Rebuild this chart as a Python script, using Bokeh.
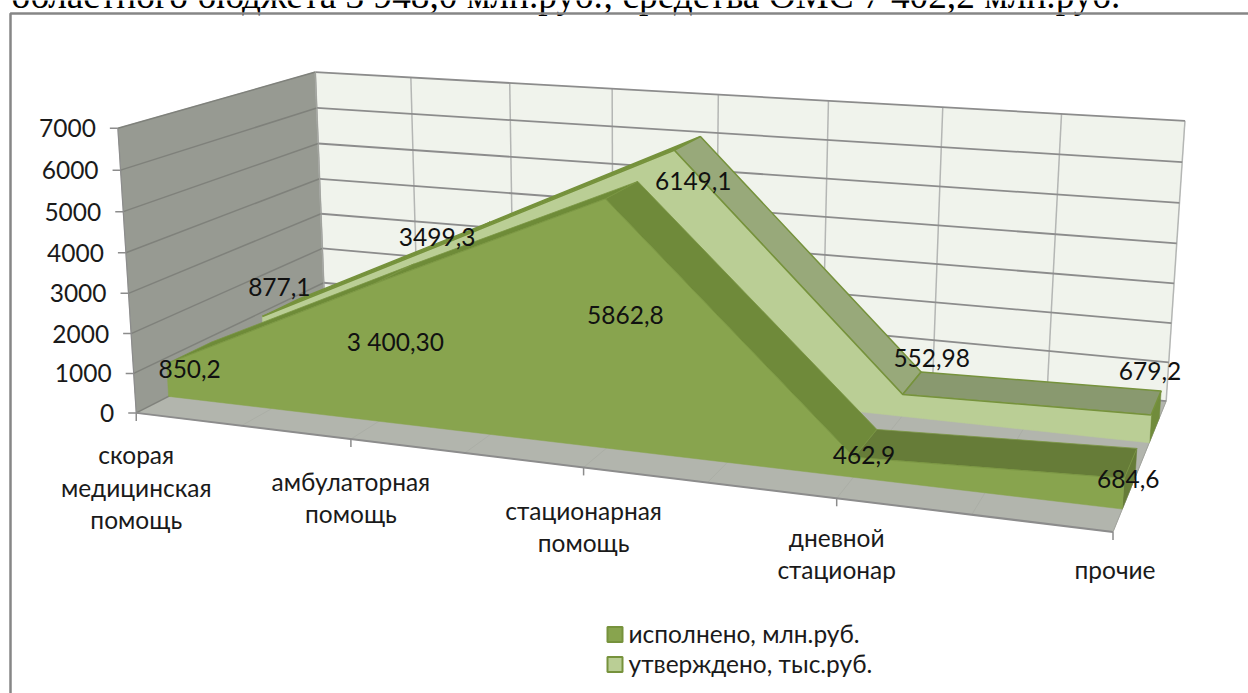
import numpy as np
from bokeh.plotting import figure
from bokeh.core.properties import value
from bokeh.embed import file_html
from bokeh.resources import INLINE

# ---- data ----
categories = [["скорая", "медицинская", "помощь"], ["амбулаторная", "помощь"],
              ["стационарная", "помощь"], ["дневной", "стационар"], ["прочие"]]
executed = [850.2, 3400.3, 5862.8, 462.9, 684.6]
executed_labels = ["850,2", "3 400,30", "5862,8", "462,9", "684,6"]
approved = [877.1, 3499.3, 6149.1, 552.98, 679.2]
approved_labels = ["877,1", "3499,3", "6149,1", "552,98", "679,2"]
value_ticks = [0, 1000, 2000, 3000, 4000, 5000, 6000, 7000]
series_names = ["исполнено, млн.руб.", "утверждено, тыс.руб."]
heading = "областного бюджета 3 948,0 млн.руб.; средства ОМС 7 402,2 млн.руб."

# ---- perspective camera: fitted from where the box's landmarks sit on the page ----
world = [(0,0,0),(4,0,0),(0,1,0),(4,1,0),(0,0,7000),(0,1,7000),(4,1,7000),
         (1,0,0),(2,0,0),(3,0,0),(1,1,7000),(2,1,7000),(3,1,7000),(0,0,3000),(0,0,5000)]
page = [(136,412),(1112,532),(325,317),(1166,398),(118,127),(314,72),(1185,121),
        (350,440),(583,468),(836,498),(509,82),(718,95),(942,107),(128,292),(123,210)]
A, b = [], []
for (u,d,v),(x,y) in zip(world,page):
    U,D,V = u/4,d,v/7000
    A.append([U,D,V,1,0,0,0,0,-x*U,-x*D,-x*V]); b.append(x)
    A.append([0,0,0,0,U,D,V,1,-y*U,-y*D,-y*V]); b.append(y)
M = np.linalg.lstsq(np.array(A,float),np.array(b,float),rcond=None)[0]
M = np.append(M,1).reshape(3,4)

def P(u,d,v):
    h = M @ np.array([u/4,d,v/7000,1.0])
    return h[0]/h[2], h[1]/h[2]

W,H = 1248,693
FONT = value("Lato")
FS = "24.5px"
p = figure(width=W,height=H,x_range=(0,W),y_range=(H,0),output_backend="svg",
           toolbar_location=None,min_border=0,
           background_fill_color="white",border_fill_color="white",outline_line_color=None)
p.axis.visible=False
p.grid.visible=False

def poly(pts,fill,line=None,lw=1.0):
    xy=[P(*q) for q in pts]
    p.patch([a for a,_ in xy],[c for _,c in xy],fill_color=fill,
            line_color=line if line else fill,line_width=lw if line else 0.5)
def seg(a,b_,color,lw):
    x0,y0=P(*a);x1,y1=P(*b_)
    p.line([x0,x1],[y0,y1],line_color=color,line_width=lw)

# heading and frame of the embedded chart
p.text([11],[-5],text=[heading],text_font=value("Liberation Serif"),text_font_size="37.3px",
       text_baseline="alphabetic",text_color="#000000")
p.line([W,10,10],[13,13,H],line_color="#868686",line_width=2.5)

# walls and floor
poly([(0,1,0),(4,1,0),(4,1,7000),(0,1,7000)],"#F0F3EC")
poly([(0,0,0),(0,1,0),(0,1,7000),(0,0,7000)],"#979A92")
poly([(0,0,0),(4,0,0),(4,1,0),(0,1,0)],"#B2B5AD")
for k in range(0,9):
    seg((k/2,1,0),(k/2,1,7000),"#B4B6B4",1.5)
    if 0<k<8:
        seg((k/2,0,0),(k/2,1,0),"#ABAEA6",1)
for t in value_ticks:
    seg((0,1,t),(4,1,t),"#8C8C8C",1.8)
    seg((0,0,t),(0,1,t),"#7F817B",1.5)
seg((0,0,0),(0,0,7000),"#8C8C8C",1.2)
seg((0,1,0),(0,1,7000),"#A0A29C",1)
seg((0,0,0),(4,0,0),"#8C8C8C",2)
seg((4,0,0),(4,1,0),"#A0A29C",1)

def series(vals,d0,d1,face,up,down,flat,cap,edge,elw):
    poly([(4,d0,vals[4]),(4,d1,vals[4]),(4,d1,0),(4,d0,0)],cap)
    for i in range(4):
        a,c=vals[i],vals[i+1]
        col = up if c-a>1000 else (down if a-c>1000 else flat)
        poly([(i,d0,a),(i+1,d0,c),(i+1,d1,c),(i,d1,a)],col,edge,elw)
    pts=[(0,d0,0)]+[(i,d0,vals[i]) for i in range(5)]+[(4,d0,0)]
    poly(pts,face)
    if edge:
        xy=[P(i,d0,vals[i]) for i in range(5)]
        p.line([a for a,_ in xy],[c for _,c in xy],line_color=edge,line_width=elw)

D = [(0.15,0.37),(0.64,0.85)]
series(approved,D[1][0],D[1][1],"#BACE95","#76923C","#98A97A","#89996F","#718C3C","#76923C",1.5)
series(executed,D[0][0],D[0][1],"#88A44E","#6E8B38","#6F8A3A","#667C38","#667C38","#7A9642",0.8)

# axis ticks and labels
tx,ty=[],[]
for t in value_ticks:
    x,y=P(0,0,t)
    p.line([x-8,x],[y,y],line_color="#8C8C8C",line_width=1.5)
    tx.append(x-22);ty.append(y)
p.text(tx,ty,text=[str(t) for t in value_ticks],text_font=FONT,text_font_size=FS,
       text_align="right",text_baseline="middle",text_color="#1A1A1A")
cat_gap=[42,42,43,39,38]
for i,lines in enumerate(categories):
    x,y=P(i,0,0)
    p.line([x,x],[y,y+8],line_color="#8C8C8C",line_width=1.5)
    p.text([x+(2 if i==4 else 0)]*len(lines),[y+cat_gap[i]+32.5*k for k in range(len(lines))],text=lines,text_font=FONT,
           text_font_size=FS,text_align="center",text_baseline="middle",text_color="#1A1A1A")

# data labels
off1=[(23,5),(21,58),(20,116),(10,-2),(4,1)]
off2=[(17,-30),(-21,-1),(19,31),(29,-36),(-1,-44)]
for vals,labs,dd,off in ((executed,executed_labels,D[0][0],off1),(approved,approved_labels,D[1][0],off2)):
    xs,ys=[],[]
    for i,v in enumerate(vals):
        x,y=P(i,dd,v);xs.append(x+off[i][0]);ys.append(y+off[i][1])
    p.text(xs,ys,text=labs,text_font=FONT,text_font_size=FS,text_align="center",
           text_baseline="middle",text_color="#111111")

# legend
for k,(nm,col) in enumerate(zip(series_names,("#88A44E","#BACE95"))):
    yy=634+30*k
    p.rect([614.5],[yy],width=15,height=15,fill_color=col,line_color="#76923C",line_width=2)
    p.text([628],[yy-1],text=[nm],text_font=FONT,text_font_size=FS,text_baseline="middle",text_color="#1A1A1A")

open("out.html","w").write(file_html(p,INLINE))
